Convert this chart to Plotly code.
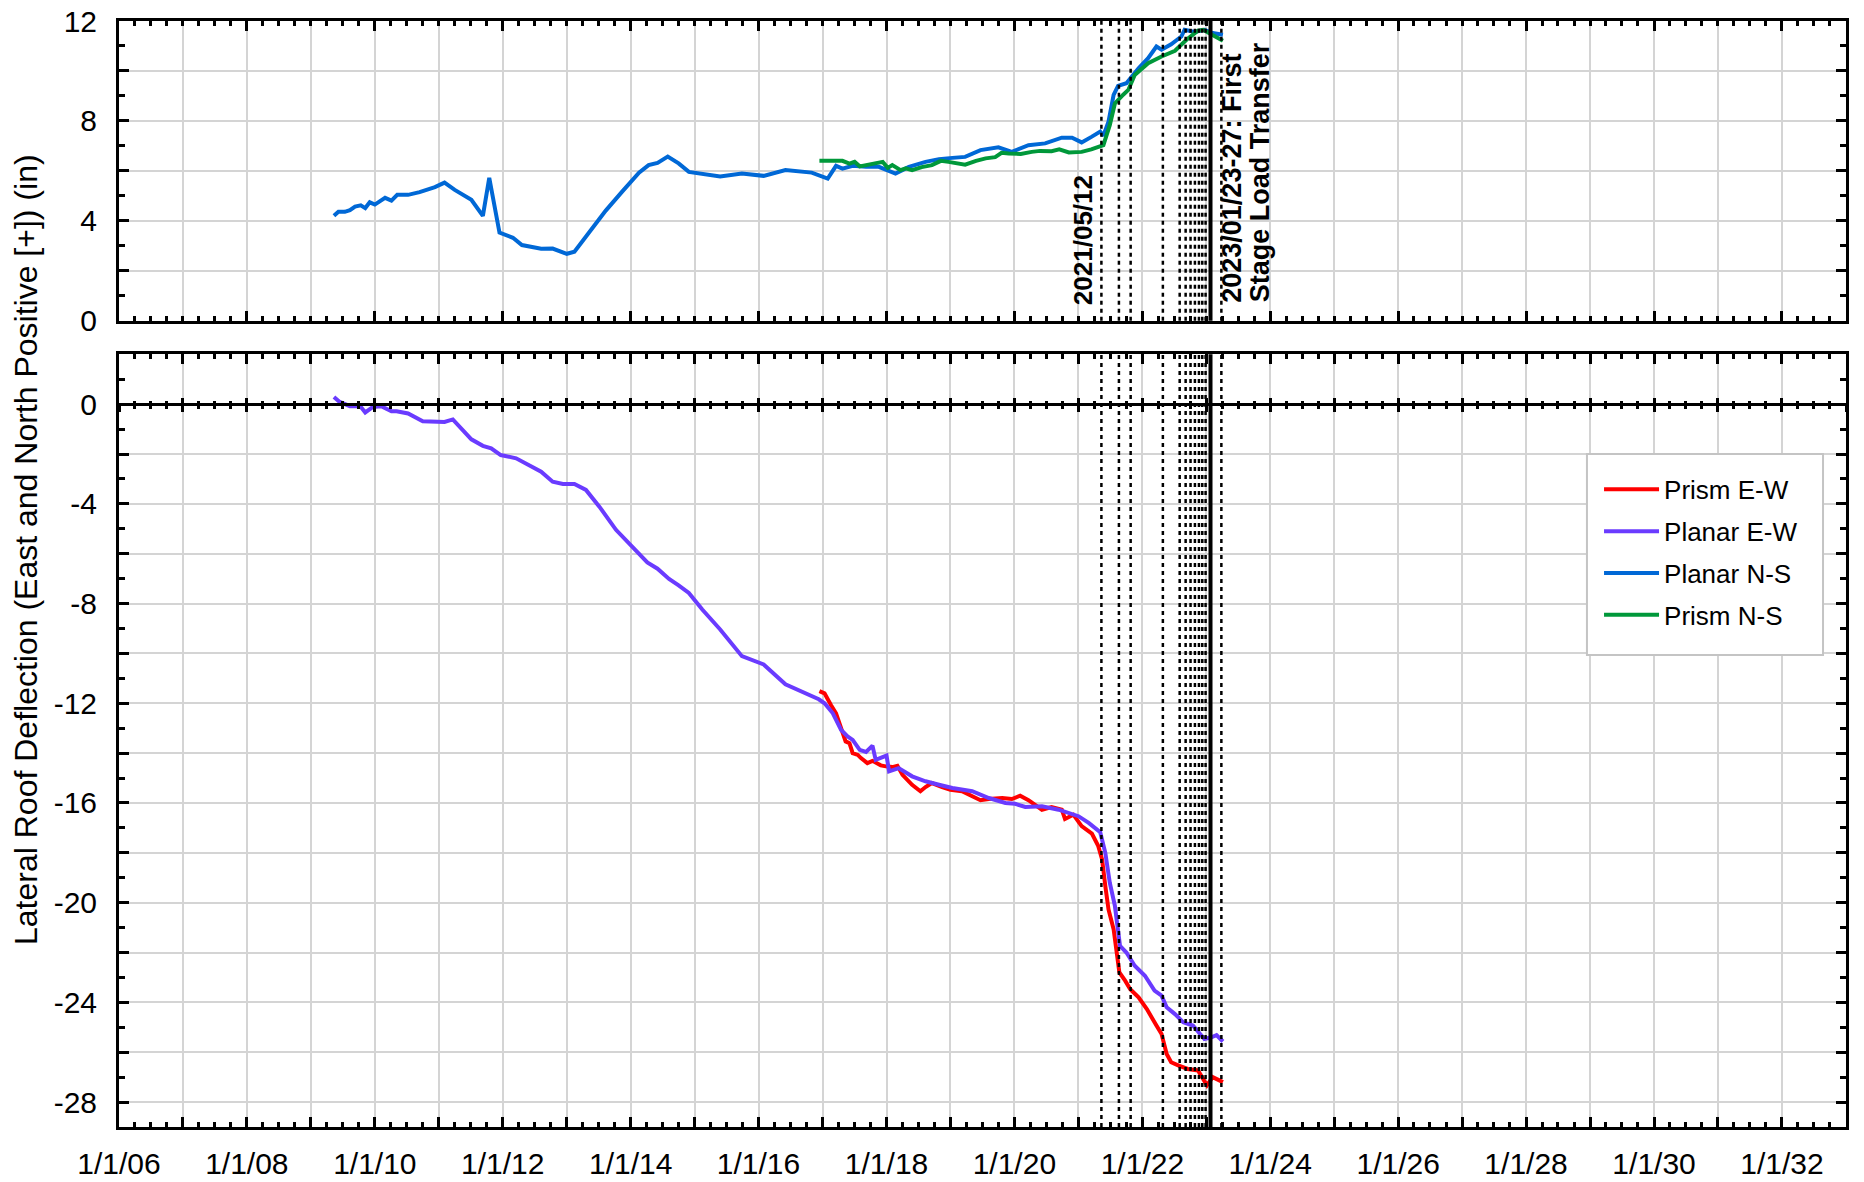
import pandas as pd
import plotly.graph_objects as go

# ---- data (decimal years, inches) ----
planar_ns_years = [2009.36, 2009.43, 2009.53, 2009.61, 2009.69, 2009.78, 2009.85, 2009.92, 2010.00,
                   2010.16, 2010.26, 2010.35, 2010.52, 2010.70, 2010.94, 2011.09, 2011.25, 2011.51,
                   2011.69, 2011.79, 2011.95, 2012.16, 2012.30, 2012.60, 2012.78, 2013.00, 2013.12,
                   2013.35, 2013.61, 2013.87, 2014.13, 2014.28, 2014.42, 2014.58, 2014.75, 2014.91,
                   2015.12, 2015.40, 2015.74, 2016.08, 2016.42, 2016.83, 2017.08, 2017.21, 2017.31,
                   2017.47, 2017.68, 2017.88, 2018.14, 2018.35, 2018.61, 2018.82, 2019.03, 2019.23,
                   2019.47, 2019.75, 2019.96, 2020.22, 2020.48, 2020.74, 2020.90, 2021.05, 2021.21,
                   2021.34, 2021.39, 2021.47, 2021.55, 2021.62, 2021.75, 2021.83, 2021.94, 2022.09,
                   2022.22, 2022.30, 2022.45, 2022.61, 2022.66, 2022.82, 2022.97, 2023.10, 2023.26]
planar_ns_vals = [4.20, 4.36, 4.36, 4.43, 4.57, 4.62, 4.51, 4.74, 4.65,
                  4.92, 4.81, 5.04, 5.04, 5.15, 5.35, 5.53, 5.24, 4.84,
                  4.20, 5.72, 3.53, 3.32, 3.03, 2.88, 2.89, 2.68, 2.76,
                  3.53, 4.41, 5.18, 5.93, 6.23, 6.32, 6.57, 6.30, 5.96,
                  5.89, 5.78, 5.89, 5.80, 6.03, 5.93, 5.69, 6.20, 6.09,
                  6.20, 6.16, 6.16, 5.89, 6.16, 6.36, 6.47, 6.52, 6.56,
                  6.83, 6.94, 6.76, 7.03, 7.10, 7.33, 7.33, 7.14, 7.37,
                  7.57, 7.41, 7.97, 9.04, 9.40, 9.51, 9.78, 10.11, 10.51,
                  10.98, 10.85, 11.07, 11.38, 11.65, 11.56, 11.65, 11.52, 11.45]

prism_ns_years = [2016.95, 2017.31, 2017.42, 2017.50, 2017.58, 2017.68, 2017.80, 2017.94, 2018.02,
                  2018.09, 2018.22, 2018.30, 2018.40, 2018.55, 2018.71, 2018.85, 2018.97, 2019.10,
                  2019.23, 2019.40, 2019.55, 2019.70, 2019.80, 2019.91, 2020.10, 2020.27, 2020.40,
                  2020.58, 2020.70, 2020.85, 2021.05, 2021.20, 2021.31, 2021.39, 2021.49, 2021.57,
                  2021.70, 2021.78, 2021.88, 2022.09, 2022.30, 2022.51, 2022.69, 2022.87, 2022.95,
                  2023.08, 2023.26]
prism_ns_vals = [6.40, 6.40, 6.29, 6.36, 6.18, 6.23, 6.32, 6.36, 6.12,
                 6.23, 6.03, 6.10, 6.03, 6.15, 6.23, 6.40, 6.36, 6.30,
                 6.25, 6.40, 6.50, 6.55, 6.72, 6.70, 6.68, 6.76, 6.80,
                 6.79, 6.86, 6.74, 6.76, 6.86, 6.96, 7.03, 7.83, 8.70,
                 9.05, 9.24, 9.84, 10.31, 10.58, 10.81, 11.25, 11.61, 11.65,
                 11.45, 11.21]

planar_ew_years = [2009.36, 2009.45, 2009.61, 2009.77, 2009.85, 2009.97, 2010.10, 2010.26, 2010.34,
                   2010.52, 2010.75, 2011.09, 2011.22, 2011.51, 2011.69, 2011.82, 2011.97, 2012.21,
                   2012.60, 2012.78, 2012.94, 2013.12, 2013.30, 2013.51, 2013.77, 2014.00, 2014.26,
                   2014.42, 2014.60, 2014.75, 2014.91, 2015.12, 2015.40, 2015.74, 2016.08, 2016.42,
                   2016.94, 2017.03, 2017.16, 2017.29, 2017.39, 2017.47, 2017.58, 2017.68, 2017.78,
                   2017.83, 2018.00, 2018.04, 2018.19, 2018.40, 2018.61, 2018.82, 2019.03, 2019.34,
                   2019.60, 2019.86, 2020.01, 2020.17, 2020.43, 2020.69, 2021.00, 2021.16, 2021.34,
                   2021.42, 2021.49, 2021.57, 2021.65, 2021.75, 2021.83, 2021.88, 2022.04, 2022.19,
                   2022.30, 2022.38, 2022.51, 2022.64, 2022.79, 2022.97, 2023.08, 2023.16, 2023.26]
planar_ew_vals = [0.29, 0.09, -0.08, -0.07, -0.33, -0.11, -0.08, -0.28, -0.28,
                  -0.37, -0.68, -0.71, -0.61, -1.41, -1.67, -1.77, -2.04, -2.17,
                  -2.71, -3.11, -3.20, -3.20, -3.44, -4.11, -5.04, -5.64, -6.35,
                  -6.60, -7.01, -7.27, -7.57, -8.24, -9.04, -10.11, -10.44, -11.24,
                  -11.84, -12.00, -12.40, -13.07, -13.33, -13.47, -13.87, -13.95, -13.70,
                  -14.27, -14.10, -14.73, -14.60, -14.93, -15.13, -15.27, -15.40, -15.53,
                  -15.80, -16.00, -16.03, -16.16, -16.13, -16.27, -16.53, -16.80, -17.17,
                  -18.00, -19.20, -20.13, -21.73, -22.00, -22.33, -22.53, -22.93, -23.53,
                  -23.73, -24.20, -24.47, -24.80, -24.93, -25.47, -25.40, -25.31, -25.57]

prism_ew_years = [2016.95, 2017.03, 2017.13, 2017.21, 2017.36, 2017.42, 2017.47, 2017.55, 2017.60,
                  2017.70, 2017.78, 2017.91, 2017.99, 2018.09, 2018.17, 2018.25, 2018.40, 2018.53,
                  2018.61, 2018.71, 2018.87, 2019.00, 2019.18, 2019.34, 2019.47, 2019.60, 2019.81,
                  2019.96, 2020.09, 2020.22, 2020.43, 2020.58, 2020.74, 2020.79, 2020.92, 2021.05,
                  2021.21, 2021.31, 2021.37, 2021.42, 2021.47, 2021.55, 2021.60, 2021.64, 2021.73,
                  2021.81, 2021.94, 2022.07, 2022.22, 2022.30, 2022.38, 2022.45, 2022.56, 2022.71,
                  2022.87, 2022.95, 2023.01, 2023.10, 2023.26]
prism_ew_vals = [-11.51, -11.60, -12.07, -12.40, -13.53, -13.60, -14.00, -14.07, -14.20,
                 -14.40, -14.31, -14.49, -14.53, -14.56, -14.51, -14.87, -15.27, -15.53,
                 -15.36, -15.20, -15.36, -15.47, -15.53, -15.73, -15.89, -15.84, -15.80,
                 -15.84, -15.71, -15.89, -16.27, -16.16, -16.27, -16.64, -16.47, -16.93,
                 -17.23, -17.73, -18.27, -19.33, -20.27, -21.07, -22.13, -22.80, -23.13,
                 -23.47, -23.80, -24.27, -24.93, -25.27, -26.07, -26.40, -26.53, -26.67,
                 -26.73, -27.07, -27.33, -27.00, -27.20]

event_dates = ["2021-05-12", "2021-08-20", "2021-10-26", "2022-04-28", "2022-08-02", "2022-09-05",
               "2022-10-03", "2022-10-28", "2022-11-20", "2022-12-09", "2022-12-28", "2023-03-28"]
load_transfer_date = "2023-01-25"

FONT = "Liberation Sans, Arial, sans-serif"
GRID = "#d4d4d4"


def to_dates(years):
    out = []
    for y in years:
        yr = int(y)
        start = pd.Timestamp(yr, 1, 1)
        out.append(start + (pd.Timestamp(yr + 1, 1, 1) - start) * (y - yr))
    return out


tick_dates = [pd.Timestamp(y, 1, 1) for y in range(2006, 2034)]
tick_text = [f"{d.month}/{d.day}/{d:%y}" if d.year % 2 == 0 else "" for d in tick_dates]
x_range = [tick_dates[0], tick_dates[-1]]

fig = go.Figure()

series = [
    ("Prism E-W", prism_ew_years, prism_ew_vals, "#FF0000", "y2"),
    ("Planar E-W", planar_ew_years, planar_ew_vals, "#6A3BFF", "y2"),
    ("Planar N-S", planar_ns_years, planar_ns_vals, "#0068D6", "y"),
    ("Prism N-S", prism_ns_years, prism_ns_vals, "#00983A", "y"),
]
for name, yrs, vals, color, yax in series:
    fig.add_trace(go.Scatter(
        x=to_dates(yrs), y=vals, mode="lines", name=name, legendgroup=name,
        line=dict(color=color, width=4),
        xaxis="x" if yax == "y" else "x2", yaxis=yax,
    ))

# empty traces so the zero-line tick axes get drawn
for ax in ("x3", "x4"):
    fig.add_trace(go.Scatter(x=[], y=[], xaxis=ax, yaxis="y2", showlegend=False, hoverinfo="skip"))

xbase = dict(
    type="date", range=x_range, tickvals=tick_dates, ticktext=tick_text, automargin=False,
    ticks="inside", ticklen=10, tickwidth=3, tickcolor="black",
    showline=True, linewidth=3, linecolor="black", mirror="ticks",
    showgrid=True, gridcolor=GRID, gridwidth=1.5, zeroline=False,
    minor=dict(dtick="M3", tick0="2006-01-01", ticks="inside", ticklen=5,
               tickwidth=3, tickcolor="black", showgrid=False),
    tickfont=dict(family=FONT, size=30, color="black"),
)
ybase = dict(
    ticks="inside", ticklen=10, tickwidth=3, tickcolor="black", automargin=False,
    showline=True, linewidth=3, linecolor="black", mirror="ticks",
    showgrid=True, gridcolor=GRID, gridwidth=1.5, zeroline=False,
    tickfont=dict(family=FONT, size=30, color="black"), ticklabelstandoff=13,
    ticklabeloverflow="allow",
    minor=dict(dtick=1, ticks="inside", ticklen=6, tickwidth=3, tickcolor="black", showgrid=False),
)
zbase = dict(type="date", range=x_range, overlaying="x2", anchor="free", automargin=False,
             tickvals=tick_dates, showticklabels=False, showgrid=False, zeroline=False,
             ticklen=6, tickwidth=3, tickcolor="black")

top_ticks = list(range(0, 13, 2))
bot_ticks = list(range(-28, 3, 2))
zero_pos = 0.6986 * 29 / 31

fig.update_layout(
    width=1848, height=1174,
    margin=dict(l=111, r=10, t=13, b=55),
    paper_bgcolor="white", plot_bgcolor="white",
    font=dict(family=FONT, color="black"),
    xaxis=dict(xbase, anchor="y", domain=[0, 1], showticklabels=False),
    xaxis2=dict(xbase, anchor="y2", domain=[0, 1], matches="x", ticklabelstandoff=8,
                ticklabeloverflow="allow"),
    xaxis3=dict(zbase, position=zero_pos, showline=True, linewidth=3, linecolor="black",
                ticks="outside",
                minor=dict(dtick="M3", tick0="2006-01-01", ticks="outside", ticklen=3,
                           tickwidth=3, tickcolor="black", showgrid=False)),
    xaxis4=dict(zbase, position=zero_pos, showline=False, ticks="inside",
                minor=dict(dtick="M3", tick0="2006-01-01", ticks="inside", ticklen=3,
                           tickwidth=3, tickcolor="black", showgrid=False)),
    yaxis=dict(ybase, anchor="x", domain=[0.729, 1.0], range=[0, 12], tickvals=top_ticks,
               ticktext=[str(v) if v % 4 == 0 else "" for v in top_ticks]),
    yaxis2=dict(ybase, anchor="x2", domain=[0, 0.6986], range=[-29, 2], tickvals=bot_ticks,
                ticktext=[str(v) if v % 4 == 0 else "" for v in bot_ticks]),
    legend=dict(x=0.857, xanchor="left", y=0.5977, yanchor="top",
                bgcolor="rgba(0,0,0,0)", borderwidth=0,
                font=dict(family=FONT, size=26, color="black"),
                traceorder="grouped", tracegroupgap=5, itemwidth=55),
    showlegend=True,
)

# event lines across both panels
for d in event_dates:
    for yref in ("y domain", "y2 domain"):
        fig.add_shape(type="line", xref="x", yref=yref, x0=d, x1=d, y0=0, y1=1,
                      line=dict(color="black", width=2.5, dash="4px,4px"))
for yref in ("y domain", "y2 domain"):
    fig.add_shape(type="line", xref="x", yref=yref, x0=load_transfer_date, x1=load_transfer_date,
                  y0=0, y1=1, line=dict(color="black", width=4))

# legend frame
fig.add_shape(type="rect", xref="paper", yref="paper", x0=0.850, x1=0.9867, y0=0.4268, y1=0.6085,
              fillcolor="white", line=dict(color="#c4c4c4", width=2), layer="above")

fig.add_annotation(text="<b>2021/05/12</b>", x=event_dates[0], xref="x", y=0, yref="y",
                   textangle=-90, xanchor="right", yanchor="bottom", xshift=-2, yshift=14,
                   showarrow=False, font=dict(family=FONT, size=26, color="black"))
for i, line_text in enumerate(["<b>2023/01/23-27: First</b>", "<b>Stage Load Transfer</b>"]):
    fig.add_annotation(text=line_text, x=load_transfer_date, xref="x", y=0, yref="y",
                       textangle=-90, xanchor="center", yanchor="bottom",
                       xshift=22 + 27 * i, yshift=16, showarrow=False,
                       font=dict(family=FONT, size=27, color="black"))
fig.add_annotation(text="Lateral Roof Deflection (East and North Positive [+]) (in)",
                   xref="paper", yref="paper", x=0, y=0.5217, xshift=-93, xanchor="center",
                   yanchor="middle", textangle=-90, showarrow=False,
                   font=dict(family=FONT, size=32, color="black"))

fig.write_html("out.html")
